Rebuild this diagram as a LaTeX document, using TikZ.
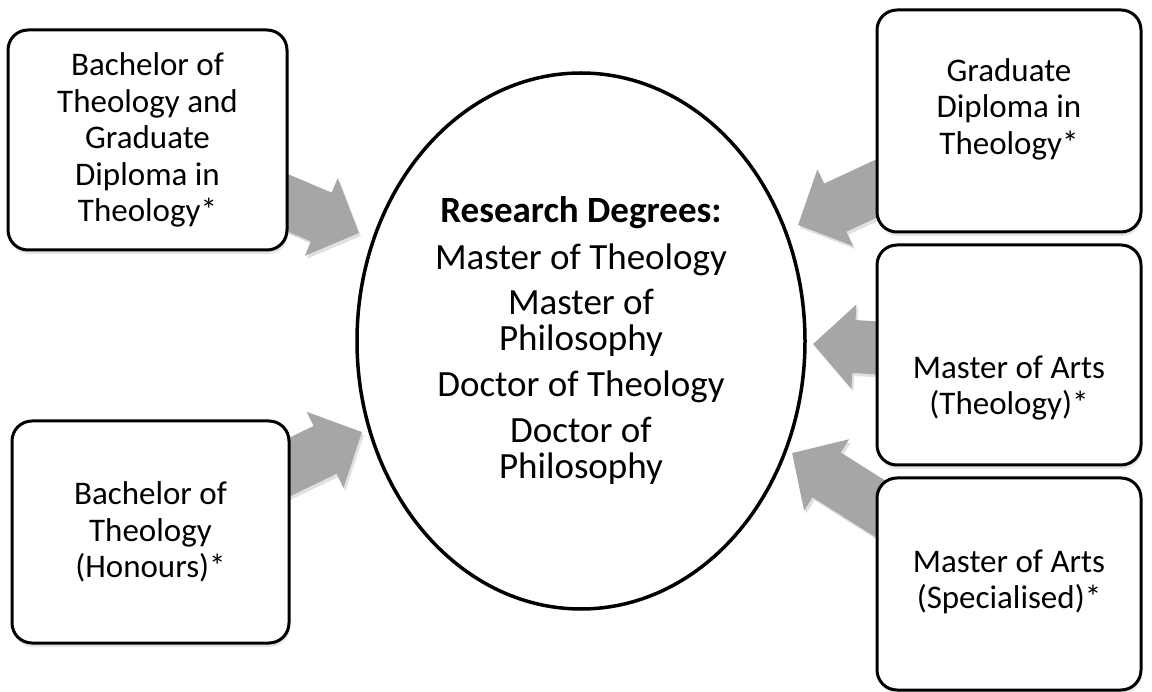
\documentclass[tikz,border=0pt]{standalone}
\usepackage{fontspec}
\setmainfont{Carlito}
\usetikzlibrary{arrows.meta,shapes.geometric,shadows}
\definecolor{arrowgray}{RGB}{166,166,166}

\begin{document}
\begin{tikzpicture}[x=1pt,y=-1pt,
  box/.style={draw=black,line width=3pt,fill=white,rounded corners=20pt,
    align=center,inner sep=0pt,font=\fontsize{33}{36.5}\selectfont,
    drop shadow={shadow xshift=1pt,shadow yshift=-4pt,opacity=.2}},
  boxtext/.style={align=center,inner sep=0pt,font=\fontsize{33}{36.5}\selectfont},
  bigarrow/.style={draw=arrowgray,line width=53pt,
    -{Triangle[width=82pt,length=41pt]}},
  arrowshade/.style={bigarrow,draw=black!12,
    transform canvas={shift={(2pt,-3pt)}}}]
\useasboundingbox (0,0) rectangle (1152,692);
%arrow ends
\coordinate (t1) at (267,194);
\coordinate (h1) at (359,233);
\coordinate (t2) at (271,476);
\coordinate (h2) at (362,432);
\coordinate (t3) at (899,178);
\coordinate (h3) at (798,225);
\coordinate (t4) at (895,349);
\coordinate (h4) at (813,344);
\coordinate (t5) at (898,520);
\coordinate (h5) at (792,453);
%arrows
\foreach \i in {1,...,5}{
  \draw[arrowshade] (t\i) -- (h\i);
  \draw[bigarrow] (t\i) -- (h\i);
}
%left boxes
\node[box,minimum width=279pt,minimum height=220pt] (bt) at (147.5,140)
  {Bachelor of\\Theology and\\Graduate\\Diploma in\\Theology*};
\node[box,minimum width=277pt,minimum height=222pt] (bh) at (150.5,532)
  {Bachelor of\\Theology\\(Honours)*};
%right boxes
\node[box,minimum width=264pt,minimum height=222pt] (gd) at (1009,121) {};
\node[boxtext] (gdtext) at ([yshift=12pt]gd.center)
  {Graduate\\Diploma in\\Theology*};
\node[box,minimum width=264pt,minimum height=220pt] (mat) at (1009,355) {};
\node[boxtext] (mattext) at ([yshift=-33pt]mat.center)
  {Master of Arts\\(Theology)*};
\node[box,minimum width=264pt,minimum height=212pt] (mas) at (1009,584) {};
\node[boxtext] (mastext) at ([yshift=2pt]mas.center)
  {Master of Arts\\(Specialised)*};
%centre
\node[draw,ellipse,line width=3.5pt,fill=white,inner sep=0pt,
  minimum width=448pt,minimum height=536pt,align=center,
  font=\fontsize{37}{36}\selectfont] (deg) at (581,341)
  {\textbf{Research Degrees:}\\[10pt]Master of Theology\\[10pt]Master of\\Philosophy\\[10pt]
   Doctor of Theology\\[10pt]Doctor of\\Philosophy};
\end{tikzpicture}
\end{document}
